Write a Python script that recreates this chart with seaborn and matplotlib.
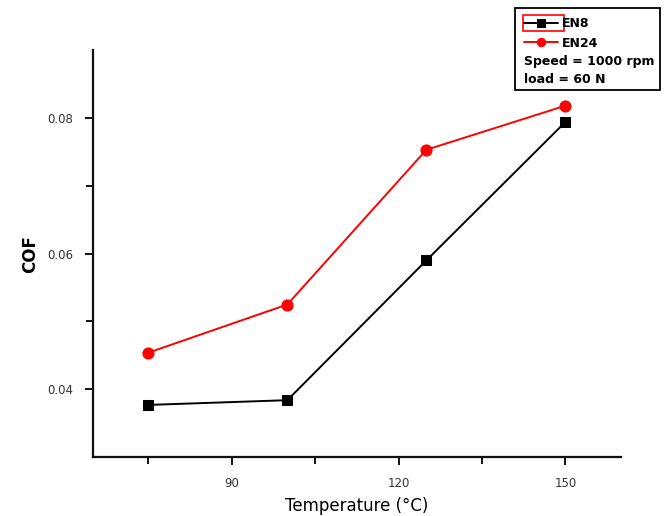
import matplotlib
matplotlib.use("Agg")
import matplotlib.pyplot as plt
from matplotlib.patches import Rectangle
from matplotlib.ticker import FixedLocator
import seaborn as sns
import pandas as pd

# Coefficient of friction vs. temperature for two steels
temperature = [75, 100, 125, 150]
cof_en8 = [0.0377, 0.0384, 0.0590, 0.0794]
cof_en24 = [0.0454, 0.0525, 0.0753, 0.0818]
x_ticks = [90, 120, 150]
y_ticks = [0.04, 0.06, 0.08]

sns.set_style("ticks")
plt.rcParams["font.family"] = ["DejaVu Sans"]
plt.rcParams["text.color"] = "black"
plt.rcParams["axes.labelcolor"] = "black"

df8 = pd.DataFrame({"Temperature": temperature, "COF": cof_en8})
df24 = pd.DataFrame({"Temperature": temperature, "COF": cof_en24})

fig = plt.figure(figsize=(6.67, 5.16), dpi=100)
ax = fig.add_axes([0.139, 0.114, 0.792, 0.789])

sns.lineplot(data=df8, x="Temperature", y="COF", ax=ax, color="black",
             marker="s", markersize=7, linewidth=1.4, markeredgecolor="black",
             label="EN8")
sns.lineplot(data=df24, x="Temperature", y="COF", ax=ax, color="#ff0000",
             marker="o", markersize=8, linewidth=1.4, markeredgecolor="#ff0000",
             label="EN24")

ax.set_xlim(65, 160)
ax.set_ylim(0.03, 0.09)
ax.set_xticks(x_ticks)
ax.set_yticks(y_ticks)
ax.xaxis.set_minor_locator(FixedLocator([75, 105, 135]))
ax.yaxis.set_minor_locator(FixedLocator([0.05, 0.07]))
ax.set_xticklabels([str(t) for t in x_ticks])
ax.set_yticklabels([f"{t:.2f}" for t in y_ticks])

for s in ["top", "right"]:
    ax.spines[s].set_visible(False)
for s in ["left", "bottom"]:
    ax.spines[s].set_linewidth(1.6)
    ax.spines[s].set_color("#111111")

ax.tick_params(axis="both", which="major", direction="out", length=6,
               width=1.4, labelsize=8.5, labelcolor="#333333", color="#111111", pad=8)
ax.tick_params(axis="both", which="minor", direction="out", length=5, width=1.4,
               color="#111111")

ax.set_xlabel("Temperature (°C)", fontsize=12, labelpad=5)
ax.set_ylabel("COF", fontsize=12, fontweight="bold", labelpad=6)

# Legend panel with the test conditions
ax.get_legend().remove()
handles, labels = ax.get_legend_handles_labels()
fig.patches.append(Rectangle((0.772, 0.826), 0.218, 0.158, transform=fig.transFigure,
                             fill=False, edgecolor="black", linewidth=1.3))
leg = fig.legend(handles, labels, loc="upper left", bbox_to_anchor=(0.782, 0.972),
                 frameon=False, handlelength=2.7, handletextpad=0.3,
                 labelspacing=0.55, borderaxespad=0, borderpad=0.2,
                 prop={"weight": "bold", "size": 9})
for h in leg.legend_handles:
    h.set_markersize(6)
fig.patches.append(Rectangle((0.784, 0.940), 0.061, 0.031, transform=fig.transFigure,
                             fill=False, edgecolor="#ff0000", linewidth=1.2))
fig.text(0.785, 0.880, "Speed = 1000 rpm", fontsize=9, fontweight="bold", va="center")
fig.text(0.785, 0.845, "load = 60 N", fontsize=9, fontweight="bold", va="center")

fig.savefig("out.png", dpi=100)
